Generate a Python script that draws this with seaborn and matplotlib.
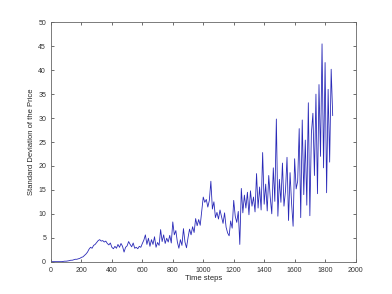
import numpy as np
import pandas as pd
import seaborn as sns
import matplotlib
matplotlib.use("Agg")
import matplotlib.pyplot as plt

# time steps, one sample every 10 steps
steps = np.arange(0, 1860, 10)

# standard deviation of the price
std_price = [
    0, 0, 0, 0, 0, 0, 0, 0, 0.05, 0.1,
    0.1, 0.15, 0.2, 0.3, 0.3, 0.4, 0.5, 0.5, 0.6, 0.7,
    0.9, 1.0, 1.3, 1.6, 2.0, 2.6, 3.0, 2.8, 3.4, 3.6,
    4.0, 4.4, 4.6, 4.3, 4.4, 4.1, 4.3, 3.8, 3.5, 3.9,
    3.0, 2.7, 3.2, 2.8, 3.6, 3.0, 3.8, 3.2, 2.0, 3.0,
    3.3, 4.2, 3.6, 3.1, 3.9, 2.8, 3.0, 2.7, 3.2, 3.0,
    3.8, 4.5, 5.6, 3.6, 4.9, 3.2, 4.6, 3.6, 5.2, 3.0,
    4.0, 3.4, 6.7, 4.2, 5.6, 3.8, 4.9, 4.1, 5.5, 3.9,
    8.3, 5.6, 6.5, 4.1, 2.8, 4.6, 3.4, 6.9, 4.1, 2.9,
    5.0, 6.8, 5.6, 7.3, 6.1, 9.0, 7.5, 8.8, 7.6, 10.5,
    13.5, 12.4, 13.0, 11.4, 12.8, 16.8, 11.0, 12.5, 9.2, 10.3,
    8.9, 10.8, 9.4, 8.0, 10.2, 7.2, 6.0, 5.4, 8.5, 7.0,
    12.8, 9.5, 8.2, 10.5, 3.6, 15.3, 10.2, 13.9, 11.2, 14.5,
    9.8, 14.8, 11.6, 13.5, 10.4, 18.4, 11.2, 15.6, 10.8, 22.8,
    12.0, 16.2, 10.6, 18.0, 13.4, 10.0, 19.6, 12.6, 29.8, 9.5,
    17.2, 12.4, 20.6, 11.6, 14.8, 21.8, 8.6, 18.6, 12.2, 7.4,
    21.5, 15.2, 16.8, 27.8, 9.2, 29.6, 14.0, 25.4, 11.8, 33.2,
    9.6, 26.8, 31.0, 18.0, 35.0, 14.2, 37.0, 22.0, 45.5, 19.6,
    41.6, 14.4, 36.0, 20.8, 40.2, 30.5,
]

df = pd.DataFrame({"Time steps": steps, "std": std_price})

sns.set_style("ticks")
plt.rcParams["font.family"] = ["Liberation Sans", "DejaVu Sans"]
plt.rcParams["xtick.direction"] = "in"
plt.rcParams["ytick.direction"] = "in"

fig = plt.figure(figsize=(3.92, 2.94), dpi=100)
ax = fig.add_axes([0.130, 0.110, 0.777, 0.814])

sns.lineplot(data=df, x="Time steps", y="std", ax=ax,
             color="#2a2ab8", linewidth=0.6)

ax.set_xlim(0, 2000)
ax.set_ylim(0, 50)
ax.set_xticks(range(0, 2001, 200))
ax.set_yticks(range(0, 51, 5))
ax.tick_params(labelsize=5, length=2.5, width=0.5, colors="#333333",
               top=True, right=True)
for s in ax.spines.values():
    s.set_linewidth(0.6)
    s.set_color("#666666")
ax.set_xlabel("Time steps", fontsize=5.5, labelpad=1)
ax.set_ylabel("Standard Deviation of the Price", fontsize=5.5, labelpad=2)

fig.savefig("out.png", dpi=100)
